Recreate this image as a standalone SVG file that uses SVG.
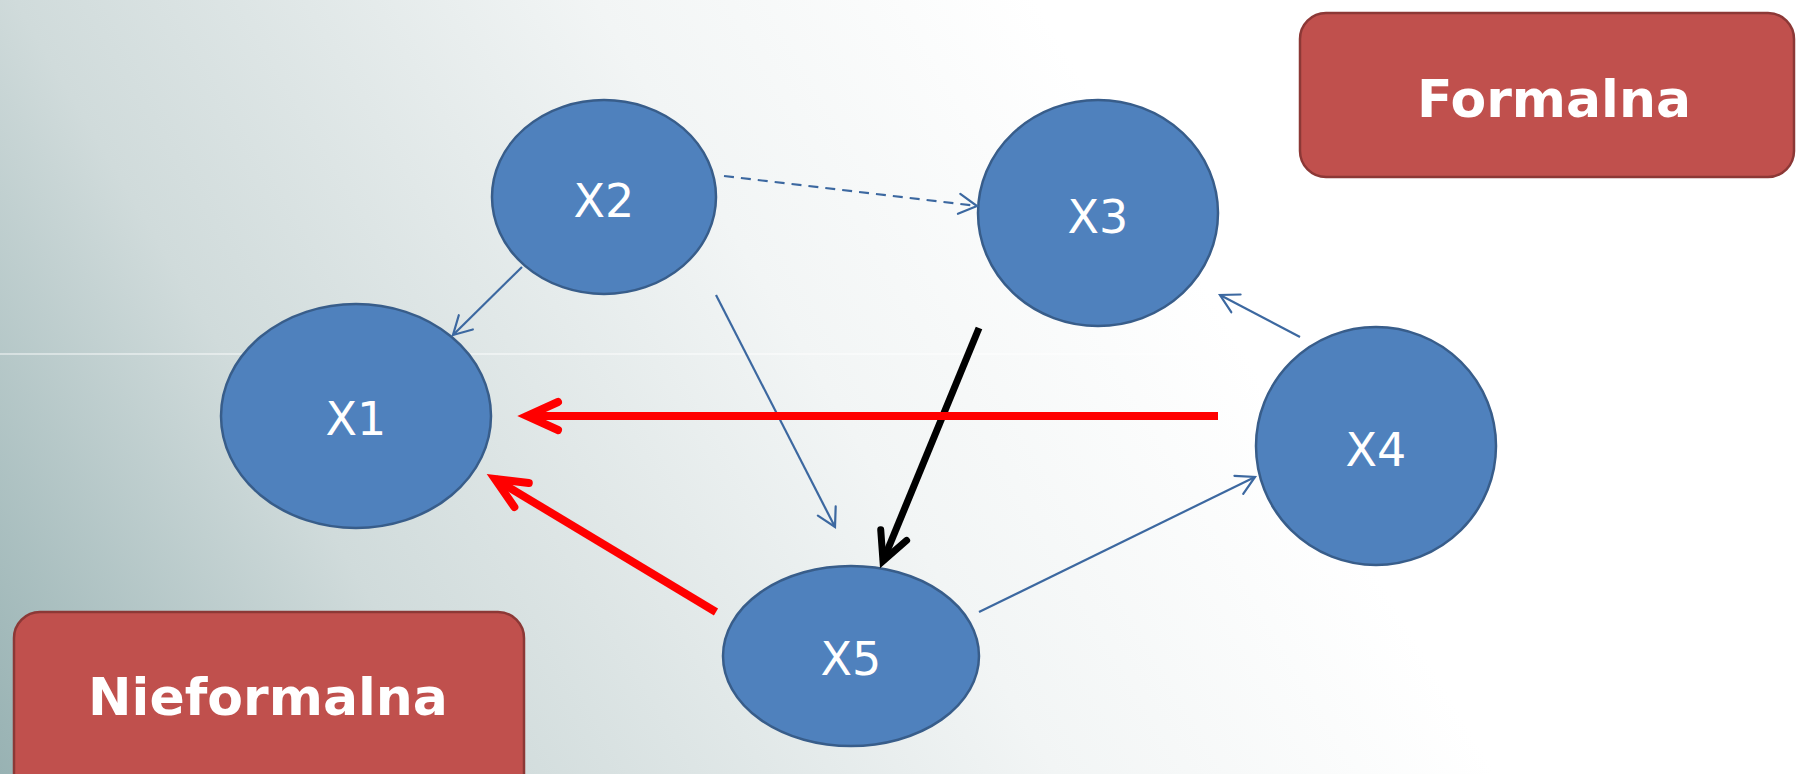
<svg xmlns="http://www.w3.org/2000/svg" width="1796" height="774" viewBox="0 0 1796 774">
<defs>
<linearGradient id="bg" gradientUnits="userSpaceOnUse" x1="0" y1="774" x2="1300" y2="0">
<stop offset="0" stop-color="#98b2b3"/>
<stop offset="0.27" stop-color="#d0dbdb"/>
<stop offset="0.6" stop-color="#f2f5f5"/>
<stop offset="0.85" stop-color="#ffffff"/>
</linearGradient>
<marker id="ah-blue" markerUnits="userSpaceOnUse" orient="auto" refX="0" refY="0" markerWidth="40" markerHeight="40" viewBox="-30 -20 40 40" overflow="visible">
<path d="M-18,-10 L0,0 L-18,10" fill="none" stroke="#3c68a0" stroke-width="2.2" stroke-linecap="round"/>
</marker>
<marker id="ah-red" markerUnits="userSpaceOnUse" orient="auto" refX="0" refY="0" markerWidth="60" markerHeight="60" viewBox="-45 -30 60 60" overflow="visible">
<path d="M-31,-14 L0,0 L-31,14" fill="none" stroke="#ff0000" stroke-width="8" stroke-linecap="round" stroke-linejoin="miter"/>
</marker>
<marker id="ah-black" markerUnits="userSpaceOnUse" orient="auto" refX="0" refY="0" markerWidth="60" markerHeight="60" viewBox="-45 -30 60 60" overflow="visible">
<path d="M-28,-14 L0,0 L-28,14" fill="none" stroke="#000000" stroke-width="7" stroke-linecap="round" stroke-linejoin="miter"/>
</marker>
</defs>
<style>
.node ellipse{fill:#4f81bd;stroke:#385d8a;stroke-width:2.5}
.node text{fill:#ffffff;font-family:"DejaVu Sans","Liberation Sans",sans-serif;font-size:46px;text-anchor:middle}
.box rect{fill:#c0504d;stroke:#8c3836;stroke-width:2.5}
.box text{fill:#ffffff;font-family:"DejaVu Sans","Liberation Sans",sans-serif;font-weight:bold;font-size:52px;text-anchor:middle}
.thin{fill:none;stroke:#3c68a0;stroke-width:2.2;marker-end:url(#ah-blue)}
.dashed{stroke-dasharray:10 7}
.red{fill:none;stroke:#ff0000;stroke-width:8;marker-end:url(#ah-red)}
.black{fill:none;stroke:#000000;stroke-width:7;marker-end:url(#ah-black)}
</style>
<rect x="0" y="0" width="1796" height="774" fill="url(#bg)"/>
<line x1="0" y1="354" x2="1300" y2="354" stroke="#ffffff" stroke-width="1.5" stroke-opacity="0.6"/>

<g id="box-formalna" class="box">
<rect x="1300" y="13" width="494" height="164" rx="26" ry="26"/>
<text x="1554" y="117">Formalna</text>
</g>
<g id="box-nieformalna" class="box">
<rect x="14" y="612" width="510" height="190" rx="26" ry="26"/>
<text x="268" y="715">Nieformalna</text>
</g>

<g id="node-x1" class="node">
<ellipse cx="356" cy="416" rx="135" ry="112"/>
<text x="356" y="435">X1</text>
</g>
<g id="node-x2" class="node">
<ellipse cx="604" cy="197" rx="112" ry="97"/>
<text x="604" y="217">X2</text>
</g>
<g id="node-x3" class="node">
<ellipse cx="1098" cy="213" rx="120" ry="113"/>
<text x="1098" y="233">X3</text>
</g>
<g id="node-x4" class="node">
<ellipse cx="1376" cy="446" rx="120" ry="119"/>
<text x="1376" y="466">X4</text>
</g>
<g id="node-x5" class="node">
<ellipse cx="851" cy="656" rx="128" ry="90"/>
<text x="851" y="675">X5</text>
</g>

<g id="connectors">
<line class="thin" x1="522" y1="267" x2="453" y2="335"/>
<line class="thin dashed" x1="724" y1="176" x2="977" y2="206"/>
<line class="thin" x1="716" y1="295" x2="835" y2="527"/>
<line class="thin" x1="1300" y1="337" x2="1220" y2="295"/>
<line class="thin" x1="979" y1="612" x2="1255" y2="477"/>
<line class="black" x1="979" y1="328" x2="883" y2="561"/>
<line class="red" x1="1218" y1="416" x2="527" y2="416"/>
<line class="red" x1="716" y1="612" x2="495" y2="479"/>
</g>
</svg>
